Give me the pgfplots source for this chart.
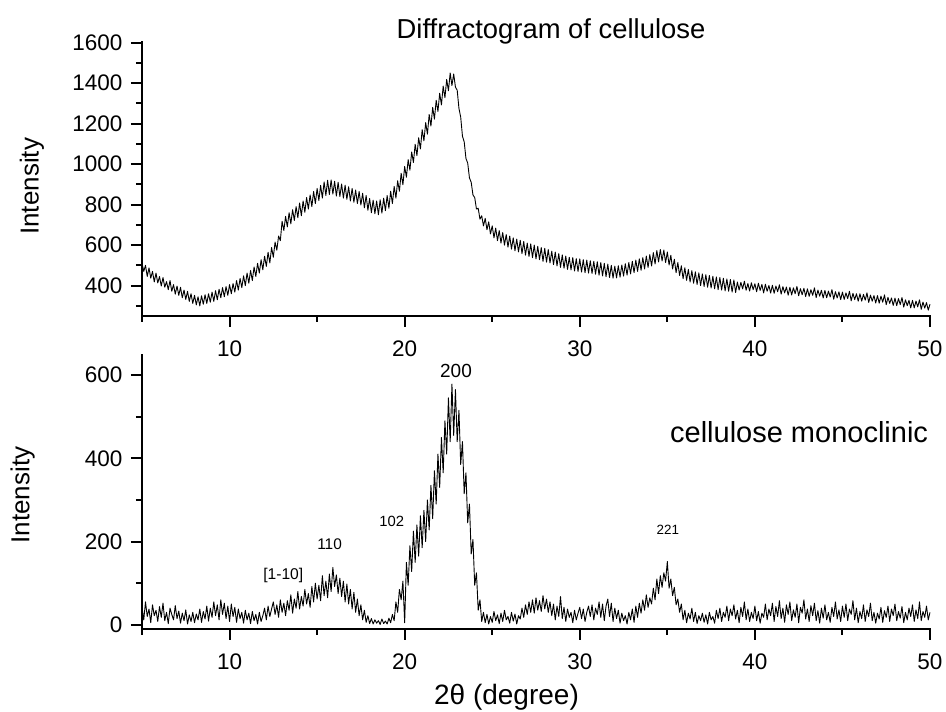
\documentclass[border=0pt]{standalone}
\usepackage{pgfplots}
\pgfplotsset{compat=1.18}
\usepackage{fontspec}
\setmainfont{Liberation Sans}
\begin{document}
\begin{tikzpicture}
\useasboundingbox (0,0) rectangle (946pt,712pt);
\pgfplotsset{
  myaxis/.style={
    scale only axis, width=788pt,
    axis x line*=bottom, axis y line*=left,
    xmin=5, xmax=50,
    xtick={10,20,30,40,50}, minor xtick={5,15,25,35,45},
    tick align=outside,
    major tick length=11pt, minor tick length=6pt,
    axis line style={line width=2.2pt, line cap=rect},
    every tick/.append style={black, line width=2pt},
    tick label style={font=\fontsize{22.5}{27}\selectfont},
    xticklabel style={yshift=-10pt},
    yticklabel style={xshift=-5pt},
    /pgf/number format/assume math mode=true,
    /pgf/number format/1000 sep={},
    scaled ticks=false,
    clip=false,
    ylabel={Intensity},
  }
}
\begin{axis}[myaxis, at={(142pt,396pt)}, anchor=south west, height=273.4pt,
  ymin=250, ymax=1600, ytick={400,600,...,1600}, minor ytick={300,500,...,1500},
  ylabel style={font=\fontsize{26}{30}\selectfont, at={(axis description cs:-0.1396,0.474)}, anchor=center}]
\addplot[black, line width=0.9pt, line join=round] coordinates {
(5.0,512)(5.1,470)(5.2,500)(5.3,445)(5.4,488)(5.5,437)(5.6,470)(5.7,418)(5.8,462)(5.9,413)
(6.0,445)(6.1,398)(6.2,440)(6.3,392)(6.4,420)(6.5,380)(6.6,425)(6.7,372)(6.8,405)(6.9,358)
(7.0,398)(7.1,352)(7.2,392)(7.3,340)(7.4,378)(7.5,332)(7.6,372)(7.7,322)(7.8,360)(7.9,312)
(8.0,352)(8.1,305)(8.2,345)(8.3,300)(8.4,350)(8.5,308)(8.6,355)(8.7,312)(8.8,360)(8.9,318)
(9.0,368)(9.1,322)(9.2,375)(9.3,330)(9.4,382)(9.5,340)(9.6,390)(9.7,345)(9.8,395)(9.9,352)
(10.0,405)(10.1,360)(10.2,410)(10.3,368)(10.4,425)(10.5,378)(10.6,435)(10.7,390)(10.8,448)(10.9,400)
(11.0,462)(11.1,412)(11.2,475)(11.3,425)(11.4,492)(11.5,445)(11.6,510)(11.7,462)(11.8,528)(11.9,478)
(12.0,545)(12.1,495)(12.2,565)(12.3,512)(12.4,588)(12.5,540)(12.6,615)(12.7,575)(12.8,645)(12.9,622)
(13.0,718)(13.1,672)(13.2,742)(13.3,690)(13.4,760)(13.5,705)(13.6,775)(13.7,722)(13.8,790)(13.9,735)
(14.0,808)(14.1,745)(14.2,818)(14.3,762)(14.4,835)(14.5,778)(14.6,848)(14.7,790)(14.8,865)(14.9,805)
(15.0,880)(15.1,820)(15.2,895)(15.3,832)(15.4,912)(15.5,845)(15.6,920)(15.7,850)(15.8,922)(15.9,852)
(16.0,915)(16.1,842)(16.2,910)(16.3,840)(16.4,902)(16.5,832)(16.6,896)(16.7,826)(16.8,888)(16.9,818)
(17.0,880)(17.1,812)(17.2,872)(17.3,805)(17.4,865)(17.5,798)(17.6,856)(17.7,784)(17.8,845)(17.9,772)
(18.0,830)(18.1,760)(18.2,822)(18.3,755)(18.4,818)(18.5,750)(18.6,824)(18.7,758)(18.8,832)(18.9,770)
(19.0,845)(19.1,782)(19.2,866)(19.3,805)(19.4,890)(19.5,832)(19.6,918)(19.7,866)(19.8,955)(19.9,898)
(20.0,988)(20.1,935)(20.2,1022)(20.3,970)(20.4,1060)(20.5,1008)(20.6,1098)(20.7,1042)(20.8,1130)(20.9,1075)
(21.0,1170)(21.1,1115)(21.2,1205)(21.3,1148)(21.4,1245)(21.5,1188)(21.6,1280)(21.7,1222)(21.8,1315)(21.9,1260)
(22.0,1350)(22.1,1292)(22.2,1385)(22.3,1328)(22.4,1418)(22.5,1362)(22.6,1450)(22.7,1388)(22.8,1445)(22.9,1380)
(23.0,1365)(23.1,1275)(23.2,1232)(23.3,1138)(23.4,1110)(23.5,1028)(23.6,1005)(23.7,932)(23.8,910)(23.9,848)
(24.0,835)(24.1,778)(24.2,782)(24.3,728)(24.4,745)(24.5,695)(24.6,732)(24.7,676)(24.8,715)(24.9,655)
(25.0,695)(25.1,636)(25.2,684)(25.3,622)(25.4,672)(25.5,610)(25.6,662)(25.7,600)(25.8,652)(25.9,590)
(26.0,645)(26.1,580)(26.2,636)(26.3,572)(26.4,630)(26.5,566)(26.6,624)(26.7,558)(26.8,618)(26.9,550)
(27.0,610)(27.1,544)(27.2,606)(27.3,538)(27.4,600)(27.5,532)(27.6,594)(27.7,528)(27.8,588)(27.9,520)
(28.0,584)(28.1,516)(28.2,578)(28.3,512)(28.4,570)(28.5,504)(28.6,566)(28.7,497)(28.8,558)(28.9,490)
(29.0,552)(29.1,486)(29.2,546)(29.3,480)(29.4,540)(29.5,478)(29.6,538)(29.7,472)(29.8,533)(29.9,470)
(30.0,532)(30.1,467)(30.2,528)(30.3,464)(30.4,526)(30.5,462)(30.6,523)(30.7,460)(30.8,520)(30.9,456)
(31.0,518)(31.1,452)(31.2,514)(31.3,448)(31.4,510)(31.5,444)(31.6,506)(31.7,440)(31.8,500)(31.9,437)
(32.0,496)(32.1,438)(32.2,498)(32.3,442)(32.4,502)(32.5,447)(32.6,508)(32.7,452)(32.8,514)(32.9,458)
(33.0,520)(33.1,464)(33.2,526)(33.3,470)(33.4,532)(33.5,476)(33.6,538)(33.7,482)(33.8,546)(33.9,490)
(34.0,553)(34.1,497)(34.2,563)(34.3,507)(34.4,573)(34.5,517)(34.6,578)(34.7,522)(34.8,576)(34.9,514)
(35.0,566)(35.1,502)(35.2,550)(35.3,482)(35.4,530)(35.5,464)(35.6,514)(35.7,450)(35.8,498)(35.9,434)
(36.0,488)(36.1,426)(36.2,480)(36.3,418)(36.4,474)(36.5,412)(36.6,468)(36.7,406)(36.8,463)(36.9,400)
(37.0,458)(37.1,396)(37.2,454)(37.3,392)(37.4,450)(37.5,388)(37.6,446)(37.7,384)(37.8,443)(37.9,380)
(38.0,440)(38.1,378)(38.2,436)(38.3,374)(38.4,433)(38.5,372)(38.6,430)(38.7,368)(38.8,428)(38.9,366)
(39.0,418)(39.1,378)(39.2,416)(39.3,384)(39.4,422)(39.5,377)(39.6,410)(39.7,373)(39.8,414)(39.9,380)
(40.0,409)(40.1,370)(40.2,412)(40.3,376)(40.4,406)(40.5,364)(40.6,407)(40.7,372)(40.8,401)(40.9,363)
(41.0,402)(41.1,362)(41.2,398)(41.3,370)(41.4,404)(41.5,358)(41.6,395)(41.7,364)(41.8,393)(41.9,353)
(42.0,392)(42.1,354)(42.2,389)(42.3,360)(42.4,396)(42.5,350)(42.6,385)(42.7,355)(42.8,387)(42.9,346)
(43.0,384)(43.1,347)(43.2,380)(43.3,352)(43.4,389)(43.5,341)(43.6,378)(43.7,348)(43.8,377)(43.9,339)
(44.0,376)(44.1,340)(44.2,373)(44.3,344)(44.4,380)(44.5,333)(44.6,370)(44.7,339)(44.8,369)(44.9,331)
(45.0,368)(45.1,332)(45.2,364)(45.3,336)(45.4,372)(45.5,325)(45.6,362)(45.7,331)(45.8,360)(45.9,323)
(46.0,360)(46.1,323)(46.2,357)(46.3,328)(46.4,364)(46.5,317)(46.6,353)(46.7,323)(46.8,351)(46.9,314)
(47.0,351)(47.1,313)(47.2,348)(47.3,318)(47.4,354)(47.5,306)(47.6,342)(47.7,312)(47.8,339)(47.9,302)
(48.0,338)(48.1,301)(48.2,336)(48.3,306)(48.4,341)(48.5,294)(48.6,330)(48.7,301)(48.8,327)(48.9,290)
(49.0,327)(49.1,290)(49.2,324)(49.3,295)(49.4,330)(49.5,283)(49.6,319)(49.7,289)(49.8,316)(49.9,279)
(50.0,308)
};
\end{axis}
\begin{axis}[myaxis, at={(142pt,83pt)}, anchor=south west, height=274pt,
  ymin=-10, ymax=648, ytick={0,200,400,600}, minor ytick={100,300,500},
  ylabel style={font=\fontsize{26}{30}\selectfont, at={(axis description cs:-0.1516,0.489)}, anchor=center}]
\addplot[black, line width=0.9pt, line join=round] coordinates {
(5.0,42)(5.1,12)(5.2,55)(5.3,20)(5.4,38)(5.5,5)(5.6,48)(5.7,22)(5.8,35)(5.9,8)
(6.0,44)(6.1,18)(6.2,52)(6.3,10)(6.4,30)(6.5,3)(6.6,40)(6.7,25)(6.8,12)(6.9,46)
(7.0,15)(7.1,33)(7.2,4)(7.3,28)(7.4,10)(7.5,36)(7.6,2)(7.7,24)(7.8,8)(7.9,30)
(8.0,5)(8.1,26)(8.2,12)(8.3,38)(8.4,6)(8.5,32)(8.6,14)(8.7,45)(8.8,9)(8.9,40)
(9.0,18)(9.1,55)(9.2,22)(9.3,48)(9.4,12)(9.5,60)(9.6,25)(9.7,52)(9.8,15)(9.9,45)
(10.0,8)(10.1,50)(10.2,20)(10.3,42)(10.4,6)(10.5,38)(10.6,15)(10.7,30)(10.8,4)(10.9,35)
(11.0,12)(11.1,28)(11.2,3)(11.3,32)(11.4,10)(11.5,25)(11.6,2)(11.7,30)(11.8,8)(11.9,22)
(12.0,40)(12.1,12)(12.2,45)(12.3,20)(12.4,38)(12.5,55)(12.6,25)(12.7,48)(12.8,18)(12.9,60)
(13.0,30)(13.1,52)(13.2,22)(13.3,58)(13.4,35)(13.5,72)(13.6,28)(13.7,62)(13.8,40)(13.9,80)
(14.0,38)(14.1,68)(14.2,45)(14.3,85)(14.4,50)(14.5,75)(14.6,42)(14.7,92)(14.8,55)(14.9,100)
(15.0,62)(15.1,95)(15.2,58)(15.3,118)(15.4,70)(15.5,105)(15.6,65)(15.7,122)(15.8,80)(15.9,138)
(16.0,92)(16.1,120)(16.2,75)(16.3,112)(16.4,68)(16.5,105)(16.6,55)(16.7,98)(16.8,50)(16.9,85)
(17.0,38)(17.1,78)(17.2,30)(17.3,62)(17.4,22)(17.5,48)(17.6,12)(17.7,35)(17.8,6)(17.9,22)
(18.0,3)(18.1,15)(18.2,2)(18.3,12)(18.4,4)(18.5,10)(18.6,1)(18.7,14)(18.8,3)(18.9,9)
(19.0,2)(19.1,16)(19.2,5)(19.3,25)(19.4,10)(19.5,55)(19.6,30)(19.7,85)(19.8,60)(19.9,105)
(20.0,5)(20.1,150)(20.2,95)(20.3,190)(20.4,128)(20.5,225)(20.6,150)(20.7,240)(20.8,165)(20.9,262)
(21.0,185)(21.1,275)(21.2,200)(21.3,300)(21.4,228)(21.5,335)(21.6,255)(21.7,370)(21.8,290)(21.9,410)
(22.0,330)(22.1,450)(22.2,365)(22.3,490)(22.4,410)(22.5,545)(22.6,440)(22.7,578)(22.8,455)(22.9,565)
(23.0,440)(23.1,515)(23.2,385)(23.3,440)(23.4,315)(23.5,365)(23.6,245)(23.7,290)(23.8,170)(23.9,205)
(24.0,95)(24.1,125)(24.2,35)(24.3,60)(24.4,8)(24.5,30)(24.6,5)(24.7,25)(24.8,2)(24.9,20)
(25.0,6)(25.1,32)(25.2,10)(25.3,24)(25.4,3)(25.5,28)(25.6,8)(25.7,35)(25.8,12)(25.9,20)
(26.0,4)(26.1,30)(26.2,9)(26.3,26)(26.4,2)(26.5,22)(26.6,14)(26.7,40)(26.8,18)(26.9,48)
(27.0,25)(27.1,55)(27.2,30)(27.3,60)(27.4,28)(27.5,65)(27.6,35)(27.7,58)(27.8,32)(27.9,70)
(28.0,38)(28.1,62)(28.2,30)(28.3,55)(28.4,22)(28.5,50)(28.6,12)(28.7,45)(28.8,20)(28.9,68)
(29.0,15)(29.1,42)(29.2,8)(29.3,38)(29.4,18)(29.5,30)(29.6,5)(29.7,35)(29.8,12)(29.9,28)
(30.0,42)(30.1,15)(30.2,38)(30.3,8)(30.4,30)(30.5,45)(30.6,20)(30.7,48)(30.8,12)(30.9,40)
(31.0,25)(31.1,55)(31.2,18)(31.3,50)(31.4,10)(31.5,45)(31.6,62)(31.7,20)(31.8,52)(31.9,8)
(32.0,40)(32.1,15)(32.2,35)(32.3,4)(32.4,28)(32.5,10)(32.6,22)(32.7,2)(32.8,30)(32.9,12)
(33.0,38)(33.1,6)(33.2,45)(33.3,18)(33.4,52)(33.5,28)(33.6,60)(33.7,35)(33.8,72)(33.9,42)
(34.0,65)(34.1,50)(34.2,88)(34.3,60)(34.4,110)(34.5,75)(34.6,118)(34.7,90)(34.8,125)(34.9,105)
(35.0,152)(35.1,88)(35.2,110)(35.3,70)(35.4,90)(35.5,48)(35.6,62)(35.7,30)(35.8,50)(35.9,12)
(36.0,35)(36.1,5)(36.2,28)(36.3,14)(36.4,40)(36.5,8)(36.6,30)(36.7,3)(36.8,22)(36.9,10)
(37.0,28)(37.1,6)(37.2,24)(37.3,2)(37.4,30)(37.5,12)(37.6,20)(37.7,4)(37.8,35)(37.9,15)
(38.0,40)(38.1,8)(38.2,30)(38.3,18)(38.4,45)(38.5,10)(38.6,38)(38.7,22)(38.8,48)(38.9,14)
(39.0,35)(39.1,5)(39.2,42)(39.3,20)(39.4,55)(39.5,12)(39.6,38)(39.7,8)(39.8,30)(39.9,15)
(40.0,45)(40.1,10)(40.2,32)(40.3,4)(40.4,28)(40.5,18)(40.6,50)(40.7,12)(40.8,38)(40.9,22)
(41.0,52)(41.1,8)(41.2,44)(41.3,20)(41.4,58)(41.5,15)(41.6,40)(41.7,6)(41.8,48)(41.9,25)
(42.0,55)(42.1,10)(42.2,36)(42.3,18)(42.4,50)(42.5,5)(42.6,42)(42.7,28)(42.8,60)(42.9,14)
(43.0,38)(43.1,8)(43.2,46)(43.3,22)(43.4,52)(43.5,10)(43.6,34)(43.7,4)(43.8,40)(43.9,16)
(44.0,48)(44.1,12)(44.2,30)(44.3,6)(44.4,42)(44.5,20)(44.6,55)(44.7,14)(44.8,36)(44.9,8)
(45.0,45)(45.1,18)(45.2,50)(45.3,10)(45.4,38)(45.5,25)(45.6,58)(45.7,12)(45.8,40)(45.9,5)
(46.0,32)(46.1,15)(46.2,48)(46.3,8)(46.4,36)(46.5,20)(46.6,52)(46.7,10)(46.8,30)(46.9,4)
(47.0,28)(47.1,14)(47.2,42)(47.3,6)(47.4,34)(47.5,18)(47.6,45)(47.7,8)(47.8,38)(47.9,22)
(48.0,50)(48.1,10)(48.2,32)(48.3,16)(48.4,44)(48.5,5)(48.6,30)(48.7,12)(48.8,40)(48.9,20)
(49.0,48)(49.1,8)(49.2,36)(49.3,15)(49.4,55)(49.5,10)(49.6,32)(49.7,18)(49.8,45)(49.9,12)
(50.0,30)
};
\node[font=\fontsize{19}{22}\selectfont, anchor=base] at (axis cs:22.93,595) {200};
\node[font=\fontsize{14.8}{18}\selectfont, anchor=base] at (axis cs:19.26,235) {102};
\node[font=\fontsize{15.4}{18}\selectfont, anchor=base] at (axis cs:15.71,180) {110};
\node[font=\fontsize{15.6}{18}\selectfont, anchor=base] at (axis cs:13.07,108) {[1-10]};
\node[font=\fontsize{13.4}{16}\selectfont, anchor=base] at (axis cs:35.03,216) {221};
\node[font=\fontsize{29}{34}\selectfont, anchor=base east, inner sep=0pt] at (axis cs:49.9,439) {cellulose monoclinic};
\end{axis}
\node[font=\fontsize{27.4}{32}\selectfont, anchor=base] at (551pt,673pt) {Diffractogram of cellulose};
\node[font=\fontsize{28}{33}\selectfont, anchor=base] at (506.5pt,7pt) {2θ (degree)};
\end{tikzpicture}
\end{document}
